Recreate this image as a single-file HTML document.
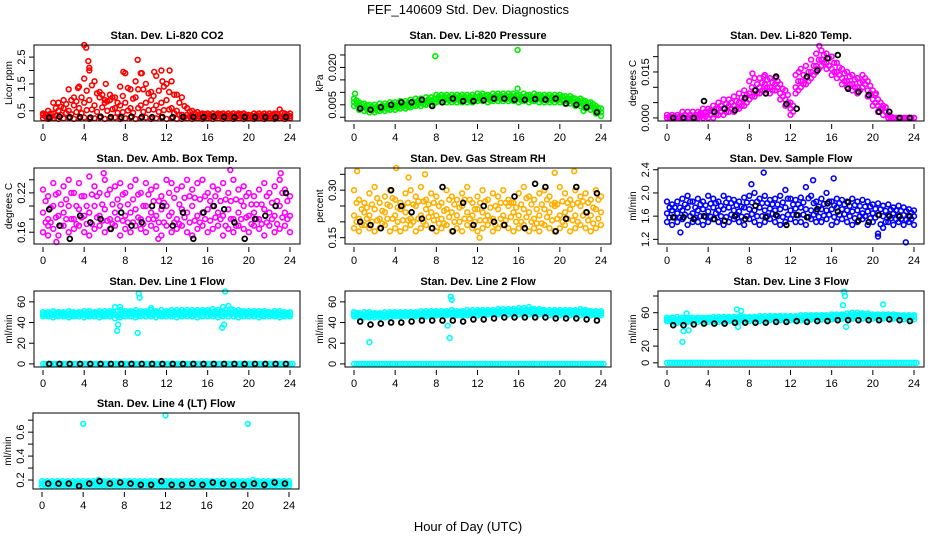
<!DOCTYPE html>
<html><head><meta charset="utf-8">
<style>
html,body{margin:0;padding:0;background:#fff;}
svg{display:block;font-family:"Liberation Sans",sans-serif;}
</style></head>
<body>
<svg id="fig" width="936" height="540" viewBox="0 0 936 540">
<text x="468" y="14" text-anchor="middle" font-size="13">FEF_140609  Std. Dev. Diagnostics</text>
<text x="468" y="531" text-anchor="middle" font-size="13">Hour of Day (UTC)</text>
</svg>
<script>
const hh = [0,0.5,1,1.5,2,2.5,3,3.5,4,4.5,5,5.5,6,6.5,7,7.5,8,8.5,9,9.5,10,10.5,11,11.5,12,12.5,13,13.5,14,14.5,15,15.5,16,16.5,17,17.5,18,18.5,19,19.5,20,20.5,21,21.5,22,22.5,23,23.5,24];
const blkHours = [0.6,1.6,2.6,3.6,4.6,5.6,6.6,7.6,8.6,9.6,10.6,11.6,12.6,13.6,14.6,15.6,16.6,17.6,18.6,19.6,20.6,21.6,22.6,23.6];
const xTicks = [0,4,8,12,16,20,24];

const co2Lo = [0.22,0.2,0.22,0.2,0.22,0.25,0.2,0.22,0.25,0.2,0.22,0.25,0.2,0.22,0.25,0.2,0.22,0.25,0.2,0.22,0.25,0.2,0.22,0.25,0.2,0.22,0.2,0.2,0.22,0.2,0.22,0.2,0.22,0.2,0.22,0.2,0.22,0.2,0.22,0.2,0.22,0.2,0.22,0.2,0.22,0.2,0.22,0.2,0.22];
const co2Mid = [0.35,0.3,0.4,0.5,0.6,0.5,0.7,0.6,0.8,0.9,0.7,1.0,0.8,0.9,0.6,0.7,0.8,0.6,1.0,0.7,0.8,0.9,0.7,0.8,0.9,0.6,0.5,0.35,0.35,0.3,0.3,0.35,0.3,0.3,0.35,0.3,0.3,0.3,0.35,0.3,0.3,0.3,0.3,0.3,0.3,0.35,0.3,0.3,0.3];
const co2Hi = [0.4,0.5,0.8,0.8,0.9,1.3,1.0,1.4,1.7,2.0,1.6,1.2,0.9,1.1,1.0,1.4,1.9,1.3,1.6,1.9,1.5,1.2,1.8,2.0,1.5,1.6,1.1,1.0,0.6,0.5,0.45,0.4,0.4,0.4,0.4,0.4,0.4,0.4,0.4,0.4,0.35,0.4,0.4,0.4,0.4,0.4,0.55,0.4,0.4];
const co2Blk = [0.25,0.28,0.26,0.27,0.25,0.28,0.27,0.26,0.28,0.27,0.26,0.27,0.26,0.27,0.27,0.26,0.28,0.27,0.26,0.27,0.26,0.26,0.25,0.27];
const co2Out = [[4.0,2.95],[4.2,2.85],[4.4,2.35],[4.5,2.1],[9.2,2.4],[7.8,1.95],[12.3,2.0],[10.8,1.95],[11.6,1.6],[3.4,1.35],[6.1,1.5],[9.6,1.9]];

const prLo = [0.0045,0.003,0.0025,0.002,0.002,0.0025,0.0025,0.003,0.003,0.0035,0.0035,0.004,0.0045,0.0045,0.005,0.005,0.006,0.006,0.006,0.006,0.006,0.006,0.006,0.006,0.0065,0.0065,0.006,0.0065,0.0065,0.0065,0.0065,0.0065,0.006,0.0065,0.006,0.0065,0.006,0.006,0.006,0.006,0.006,0.0055,0.0055,0.0045,0.0045,0.0035,0.003,0.0015,0.0005];
const prMid = [0.006,0.0045,0.004,0.0035,0.0035,0.004,0.004,0.0045,0.0045,0.005,0.005,0.0055,0.006,0.006,0.0065,0.0065,0.0075,0.0075,0.0075,0.0075,0.0075,0.0075,0.0075,0.0075,0.008,0.008,0.0075,0.008,0.008,0.008,0.008,0.008,0.0075,0.008,0.0075,0.008,0.0075,0.0075,0.0075,0.0075,0.0075,0.007,0.007,0.006,0.006,0.005,0.0045,0.003,0.002];
const prHi = [0.0075,0.006,0.0055,0.005,0.005,0.0055,0.0055,0.006,0.006,0.0065,0.0065,0.007,0.0075,0.0075,0.008,0.008,0.009,0.009,0.009,0.009,0.009,0.009,0.009,0.009,0.0095,0.0095,0.009,0.0095,0.0095,0.0095,0.0095,0.0095,0.009,0.0095,0.009,0.0095,0.009,0.009,0.009,0.009,0.009,0.0085,0.0085,0.0075,0.0075,0.0065,0.006,0.0045,0.0035];
const prBlk = [0.0035,0.003,0.004,0.005,0.006,0.006,0.007,0.0045,0.006,0.0075,0.0065,0.0065,0.0068,0.0075,0.0075,0.007,0.007,0.0073,0.0071,0.0075,0.0055,0.005,0.004,0.002];
const prOut = [[7.9,0.0245],[15.9,0.027],[15.9,0.0115],[0.1,0.0095],[22.3,0.0025]];

const tLo = [0,0,0,0,0,0,0,0,0,0,0.001,0.001,0.002,0.002,0.003,0.004,0.006,0.007,0.008,0.009,0.008,0.009,0.006,0.004,0.001,0.008,0.01,0.011,0.013,0.015,0.017,0.016,0.014,0.013,0.011,0.01,0.009,0.008,0.01,0.007,0.004,0.002,0.001,0,0,0,0,0,0];
const tMid = [0,0,0,0,0,0,0.001,0.001,0.002,0.002,0.003,0.003,0.004,0.004,0.005,0.006,0.008,0.009,0.01,0.011,0.01,0.011,0.008,0.006,0.003,0.01,0.012,0.013,0.015,0.017,0.019,0.018,0.016,0.015,0.013,0.012,0.011,0.01,0.012,0.009,0.006,0.004,0.003,0,0,0,0,0,0];
const tHi = [0.001,0.001,0.001,0.002,0.002,0.002,0.002,0.003,0.003,0.004,0.005,0.006,0.006,0.007,0.008,0.009,0.012,0.013,0.013,0.014,0.013,0.013,0.011,0.009,0.005,0.014,0.016,0.017,0.019,0.021,0.022,0.021,0.02,0.018,0.016,0.015,0.014,0.013,0.014,0.012,0.009,0.006,0.004,0.001,0,0,0,0,0];
const tBlk = [0,0,0,0.0055,0.002,0.003,0.0025,0.0065,0.009,0.008,0.0135,0.0045,0.003,0.0135,0.0155,0.0195,0.0205,0.0095,0.0085,0.0075,0.002,0.002,0,0];
const tOut = [[8.3,0.0145],[9.4,0.0135],[14.8,0.0235],[12.8,0.015],[20.3,0.008]];

const amLo = [0.16,0.17,0.165,0.155,0.17,0.16,0.165,0.17,0.16,0.155,0.165,0.17,0.16,0.165,0.17,0.155,0.165,0.16,0.17,0.165,0.16,0.17,0.165,0.155,0.17,0.16,0.165,0.17,0.16,0.155,0.165,0.17,0.16,0.165,0.17,0.155,0.165,0.16,0.17,0.165,0.16,0.17,0.165,0.155,0.17,0.16,0.165,0.17,0.16];
const amMid = [0.19,0.18,0.2,0.185,0.19,0.2,0.18,0.195,0.185,0.19,0.2,0.185,0.195,0.18,0.19,0.2,0.185,0.19,0.195,0.18,0.2,0.19,0.185,0.195,0.2,0.19,0.18,0.195,0.19,0.2,0.185,0.19,0.195,0.2,0.19,0.185,0.195,0.18,0.19,0.2,0.185,0.19,0.18,0.195,0.19,0.185,0.2,0.19,0.185];
const amHi = [0.225,0.215,0.235,0.22,0.23,0.24,0.22,0.235,0.215,0.245,0.23,0.22,0.24,0.225,0.23,0.235,0.22,0.23,0.24,0.22,0.235,0.225,0.23,0.215,0.24,0.235,0.225,0.23,0.24,0.225,0.235,0.24,0.22,0.23,0.225,0.235,0.22,0.24,0.225,0.23,0.22,0.215,0.225,0.235,0.22,0.23,0.24,0.225,0.215];
const amBlk = [0.195,0.17,0.15,0.185,0.175,0.18,0.165,0.19,0.17,0.175,0.2,0.2,0.17,0.19,0.15,0.19,0.2,0.195,0.175,0.15,0.18,0.185,0.2,0.22];
const amOut = [[0.5,0.155],[1.3,0.145],[5.9,0.25],[18.2,0.255],[23.1,0.25],[11.2,0.15]];

const rhLo = [0.18,0.17,0.19,0.18,0.17,0.18,0.19,0.17,0.18,0.17,0.18,0.19,0.17,0.18,0.19,0.18,0.17,0.18,0.19,0.17,0.18,0.17,0.19,0.18,0.17,0.18,0.19,0.17,0.18,0.19,0.18,0.17,0.18,0.19,0.17,0.18,0.17,0.19,0.18,0.17,0.18,0.19,0.17,0.18,0.19,0.18,0.17,0.18,0.19];
const rhMid = [0.22,0.21,0.23,0.22,0.24,0.21,0.23,0.25,0.22,0.24,0.23,0.21,0.25,0.22,0.24,0.23,0.22,0.21,0.24,0.23,0.22,0.25,0.23,0.22,0.24,0.23,0.22,0.21,0.24,0.22,0.25,0.23,0.22,0.24,0.23,0.21,0.22,0.24,0.23,0.25,0.22,0.23,0.24,0.22,0.25,0.23,0.22,0.24,0.23];
const rhHi = [0.3,0.27,0.26,0.29,0.31,0.26,0.28,0.3,0.27,0.26,0.29,0.3,0.28,0.31,0.27,0.29,0.28,0.26,0.3,0.28,0.27,0.29,0.31,0.26,0.28,0.3,0.27,0.29,0.28,0.3,0.27,0.26,0.29,0.31,0.28,0.27,0.29,0.3,0.28,0.26,0.31,0.29,0.27,0.3,0.28,0.29,0.27,0.3,0.28];
const rhBlk = [0.2,0.19,0.18,0.3,0.25,0.23,0.21,0.18,0.31,0.17,0.26,0.19,0.25,0.2,0.19,0.28,0.18,0.32,0.31,0.17,0.21,0.31,0.23,0.29];
const rhOut = [[0.3,0.36],[4.1,0.37],[6.9,0.35],[21.4,0.36],[19.5,0.355],[12.2,0.15],[5.3,0.34]];

const sfLo = [1.5,1.45,1.5,1.55,1.45,1.5,1.5,1.45,1.5,1.55,1.5,1.45,1.5,1.55,1.5,1.45,1.55,1.5,1.45,1.5,1.55,1.5,1.45,1.5,1.55,1.5,1.5,1.45,1.55,1.5,1.5,1.55,1.45,1.5,1.55,1.5,1.45,1.5,1.55,1.45,1.5,1.3,1.4,1.5,1.45,1.5,1.45,1.5,1.45];
const sfMid = [1.65,1.7,1.65,1.7,1.75,1.65,1.7,1.72,1.68,1.75,1.7,1.72,1.75,1.7,1.68,1.75,1.72,1.7,1.75,1.7,1.73,1.7,1.72,1.75,1.7,1.73,1.75,1.72,1.7,1.68,1.72,1.7,1.72,1.75,1.72,1.7,1.68,1.7,1.65,1.68,1.65,1.62,1.6,1.62,1.65,1.6,1.62,1.6,1.6];
const sfHi = [1.85,1.8,1.85,1.9,1.95,1.85,1.9,1.85,1.95,1.9,1.85,1.95,1.9,1.88,1.85,1.92,1.95,2.0,1.9,1.95,1.88,1.9,1.95,2.05,1.9,1.88,1.92,2.1,1.95,1.85,1.9,2.0,1.85,1.9,1.88,1.85,1.9,1.85,1.88,1.85,1.8,1.82,1.78,1.8,1.75,1.78,1.75,1.72,1.7];
const sfBlk = [1.58,1.58,1.55,1.6,1.55,1.52,1.6,1.55,1.78,1.58,1.62,1.45,1.62,1.58,1.72,1.82,1.68,1.84,1.52,1.5,1.62,1.6,1.6,1.6];
const sfOut = [[9.4,2.35],[16.2,2.25],[14.2,2.22],[20.5,1.25],[23.2,1.15],[8.2,2.15],[1.3,1.32]];

const zeroBase = [0,0,0,0,0,0,0,0,0,0,0,0,0,0,0,0,0,0,0,0,0,0,0,0,0,0,0,0,0,0,0,0,0,0,0,0,0,0,0,0,0,0,0,0,0,0,0,0,0];
const zeroBlk = [0,0,0,0,0,0,0,0,0,0,0,0,0,0,0,0,0,0,0,0,0,0,0,0];

const l1Lo = [46,46,45,46,46,45,46,46,45,46,46,45,46,46,44,45,46,46,45,46,46,46,45,46,46,46,45,46,46,46,45,46,46,46,45,46,46,46,45,46,46,46,45,46,46,46,45,46,46];
const l1Mid = [48,48,48,49,48,48,48,49,48,48,49,48,48,49,48,48,49,49,48,49,49,49,49,48,49,49,49,49,49,49,49,50,49,49,49,50,50,49,49,49,49,49,48,49,49,48,48,48,48];
const l1Hi = [50,50,51,50,50,51,50,50,51,51,50,51,51,51,55,52,51,51,52,51,51,52,51,52,51,52,52,52,52,52,52,52,52,53,52,55,56,52,52,51,51,51,51,51,50,51,51,50,50];
const l1Out = [[9.3,68],[9.4,64],[9.2,30],[7.2,32],[7.3,38],[17.7,70],[17.6,38],[17.4,35],[7.5,55],[10.5,54]];

const l2Lo = [46,45,45,45,45,45,45,45,46,46,46,46,46,46,46,46,47,47,47,47,47,47,47,47,47,48,48,48,48,48,48,48,48,48,48,48,48,48,47,47,47,47,47,47,47,47,47,47,47];
const l2Mid = [48,47,47,47,48,47,47,48,48,48,48,48,48,48,48,49,49,49,49,49,49,49,49,49,50,50,50,50,50,50,51,51,51,51,51,51,51,50,50,50,50,50,50,50,50,50,49,49,49];
const l2Hi = [50,49,50,50,49,49,50,50,50,50,50,50,50,51,51,51,51,51,51,52,51,51,52,52,52,52,52,52,53,53,53,53,54,54,55,53,53,52,52,52,52,52,52,52,53,52,51,51,51];
const l2Blk = [41,38,39,40,40,41,42,42,42,42,41,43,43,44,45,45,45,45,45,44,44,44,43,42];
const l2Out = [[1.5,21],[9.3,25],[9.1,37],[9.4,65],[9.5,62]];

const l3Lo = [50,48,48,48,49,49,49,49,49,49,49,49,50,50,50,50,50,50,50,50,51,51,51,51,51,51,51,51,52,52,52,52,52,53,53,53,53,53,53,53,53,53,53,53,53,53,52,52,52];
const l3Mid = [52,51,51,51,52,52,52,52,52,52,52,52,53,53,53,53,53,53,53,53,54,54,54,54,54,54,54,55,55,55,55,55,55,56,56,56,56,57,57,56,56,56,56,56,56,55,55,55,55];
const l3Hi = [54,54,55,54,54,54,54,54,54,55,55,55,55,55,55,55,55,55,56,56,56,56,56,56,56,56,57,57,57,57,57,57,58,58,58,59,60,60,59,59,58,58,58,58,58,57,57,57,57];
const l3Blk = [45,45,46,47,47,47,48,48,48,48,49,49,50,49,50,50,51,51,51,51,51,52,51,50];
const l3Out = [[1.5,25],[1.6,38],[2.1,39],[6.8,64],[7.2,62],[6.9,43],[17.2,85],[17.3,80],[17.1,69],[17.4,43],[21.0,70],[1.9,59]];

const l4Lo = [0.15,0.15,0.15,0.15,0.15,0.15,0.15,0.15,0.15,0.15,0.15,0.15,0.15,0.15,0.15,0.15,0.15,0.15,0.15,0.15,0.15,0.15,0.15,0.15,0.15,0.15,0.15,0.15,0.15,0.15,0.15,0.15,0.15,0.15,0.15,0.15,0.15,0.15,0.15,0.15,0.15,0.15,0.15,0.15,0.15,0.15,0.15,0.15,0.15];
const l4Mid = [0.17,0.17,0.17,0.17,0.17,0.17,0.17,0.17,0.17,0.17,0.17,0.17,0.17,0.17,0.17,0.17,0.17,0.17,0.17,0.17,0.17,0.17,0.17,0.17,0.17,0.17,0.17,0.17,0.17,0.17,0.17,0.17,0.17,0.17,0.17,0.17,0.17,0.17,0.17,0.17,0.17,0.17,0.17,0.17,0.17,0.17,0.17,0.17,0.17];
const l4Hi = [0.19,0.19,0.19,0.19,0.19,0.19,0.19,0.19,0.19,0.19,0.19,0.2,0.19,0.19,0.19,0.19,0.19,0.19,0.19,0.19,0.19,0.19,0.19,0.19,0.19,0.19,0.19,0.19,0.19,0.19,0.19,0.19,0.19,0.19,0.19,0.19,0.19,0.19,0.19,0.19,0.19,0.2,0.19,0.19,0.19,0.19,0.19,0.19,0.19];
const l4Blk = [0.17,0.17,0.17,0.15,0.17,0.19,0.17,0.18,0.17,0.16,0.16,0.19,0.16,0.16,0.17,0.16,0.18,0.17,0.16,0.16,0.17,0.16,0.18,0.17];
const l4Out = [[4,0.67],[12,0.74],[20,0.67]];

const panels = [
 {id:'co2',title:'Stan. Dev. Li-820 CO2',ylab:'Licor ppm',L:34,T:45,ymin:0.12,ymax:2.95,ticks:[0.5,1,1.5,2,2.5],labels:['0.5','1.5','2.5'],col:'#ff0000',sets:[co2Lo,co2Mid,co2Hi],blk:co2Blk,out:co2Out,base:null},
 {id:'pressure',title:'Stan. Dev. Li-820 Pressure',ylab:'kPa',L:345,T:45,ymin:-0.0015,ymax:0.029,ticks:[0,0.005,0.01,0.015,0.02,0.025],labels:['0.005','0.020'],col:'#00ee00',sets:[prLo,prMid,prHi],blk:prBlk,out:prOut,base:null},
 {id:'temp',title:'Stan. Dev. Li-820 Temp.',ylab:'degrees C',L:658,T:45,ymin:-0.001,ymax:0.0238,ticks:[0,0.005,0.01,0.015,0.02],labels:['0.000','0.015'],col:'#ff00ff',sets:[tLo,tMid,tHi],blk:tBlk,out:tOut,base:null},
 {id:'amb-box',title:'Stan. Dev. Amb. Box Temp.',ylab:'degrees C',L:34,T:168,ymin:0.142,ymax:0.258,ticks:[0.16,0.18,0.2,0.22,0.24],labels:['0.16','0.22'],col:'#ff00ff',sets:[amLo,amMid,amHi],blk:amBlk,out:amOut,base:null},
 {id:'rh',title:'Stan. Dev. Gas Stream RH',ylab:'percent',L:345,T:168,ymin:0.13,ymax:0.37,ticks:[0.15,0.2,0.25,0.3,0.35],labels:['0.15','0.30'],col:'#ffb000',sets:[rhLo,rhMid,rhHi],blk:rhBlk,out:rhOut,base:null},
 {id:'sample-flow',title:'Stan. Dev. Sample Flow',ylab:'ml/min',L:658,T:168,ymin:1.12,ymax:2.43,ticks:[1.2,1.6,2.0,2.4],labels:['1.2','1.6','2.0','2.4'],col:'#0000ff',sets:[sfLo,sfMid,sfHi],blk:sfBlk,out:sfOut,base:null},
 {id:'line1',title:'Stan. Dev. Line 1 Flow',ylab:'ml/min',L:34,T:291,ymin:-3,ymax:70.5,ticks:[0,20,40,60],labels:['0','20','40','60'],col:'#00ffff',sets:[l1Lo,l1Mid,l1Hi],blk:zeroBlk,out:l1Out,base:zeroBase},
 {id:'line2',title:'Stan. Dev. Line 2 Flow',ylab:'ml/min',L:345,T:291,ymin:-3,ymax:70.5,ticks:[0,20,40,60],labels:['0','20','40','60'],col:'#00ffff',sets:[l2Lo,l2Mid,l2Hi],blk:l2Blk,out:l2Out,base:zeroBase},
 {id:'line3',title:'Stan. Dev. Line 3 Flow',ylab:'ml/min',L:658,T:291,ymin:-5,ymax:86,ticks:[0,20,40,60,80],labels:['0','20','60'],col:'#00ffff',sets:[l3Lo,l3Mid,l3Hi],blk:l3Blk,out:l3Out,base:zeroBase},
 {id:'line4',title:'Stan. Dev. Line 4 (LT) Flow',ylab:'ml/min',L:33,T:413,ymin:0.125,ymax:0.76,ticks:[0.2,0.3,0.4,0.5,0.6,0.7],labels:['0.2','0.4','0.6'],col:'#00ffff',sets:[l4Lo,l4Mid,l4Hi],blk:l4Blk,out:l4Out,base:null}
];

const NS='http://www.w3.org/2000/svg';
const svg=document.getElementById('fig');
function mk(tag,attrs,parent){const e=document.createElementNS(NS,tag);for(const k in attrs)e.setAttribute(k,attrs[k]);(parent||svg).appendChild(e);return e;}
const W=266,H=76;
panels.forEach(p=>{
  const g=mk('g',{});
  
  
  const x0=p.L+9, x1=p.L+W-10;
  const sx=h=>x0+(x1-x0)*h/24;
  const sy=v=>p.T+H-(v-p.ymin)/(p.ymax-p.ymin)*H;
  const t=mk('text',{x:p.L+W/2,y:p.T-6,'text-anchor':'middle','font-size':'11','font-weight':'bold'},g);
  t.textContent=p.title;
  
  
  const pts=mk('g',{fill:'none'},g);
  
  
  const dot=(h,v,stroke,sw)=>{
    if(v<p.ymin-0.0001||v>p.ymax)return;
    const c=mk('circle',{cx:sx(h).toFixed(1),cy:sy(v).toFixed(1),r:2.4,stroke:stroke,'stroke-width':sw},pts);
    
    
  };
  if(p.base) p.base.forEach((v,i)=>{dot(hh[i],v,p.col,1.6);dot(hh[i]+0.25,v,p.col,1.6);});
  p.sets.forEach(arr=>arr.forEach((v,i)=>{if(i<hh.length)dot(hh[i],v,p.col,1.6);}));
  p.sets.forEach((arr,k)=>{if(k<2)arr.forEach((v,i)=>{if(i<hh.length-1)dot(hh[i]+0.25,(v+p.sets[k+1][i])/2,p.col,1.6);});});
  p.out.forEach(o=>dot(o[0],o[1],p.col,1.6));
  p.blk.forEach((v,i)=>dot(blkHours[i],v,'#000',1.8));
  const box=mk('rect',{x:p.L,y:p.T,width:W,height:H,fill:'none',stroke:'#000','stroke-width':1},g);
  
  
  const xa=mk('g',{},g);
  
  
  xTicks.forEach(h=>{
    mk('line',{x1:sx(h),x2:sx(h),y1:p.T+H+3,y2:p.T+H+8,stroke:'#000'},xa);
    const l=mk('text',{x:sx(h),y:p.T+H+20,'text-anchor':'middle','font-size':'11'},xa);
    l.textContent=h;
  });
  const ya=mk('g',{},g);
  
  
  p.ticks.forEach(v=>{mk('line',{x1:p.L-5,x2:p.L,y1:sy(v),y2:sy(v),stroke:'#000'},ya);});
  p.labels.forEach(s=>{
    const v=parseFloat(s);const y=sy(v);const x=p.L-9;
    const l=mk('text',{x:x,y:y,'text-anchor':'middle','font-size':'11',transform:`rotate(-90 ${x} ${y})`},ya);
    l.textContent=s;
  });
  const yl=mk('text',{x:p.L-22,y:p.T+H/2,'text-anchor':'middle','font-size':'10',transform:`rotate(-90 ${p.L-22} ${p.T+H/2})`},g);
  yl.textContent=p.ylab;
  
  
});
</script>
</body></html>
